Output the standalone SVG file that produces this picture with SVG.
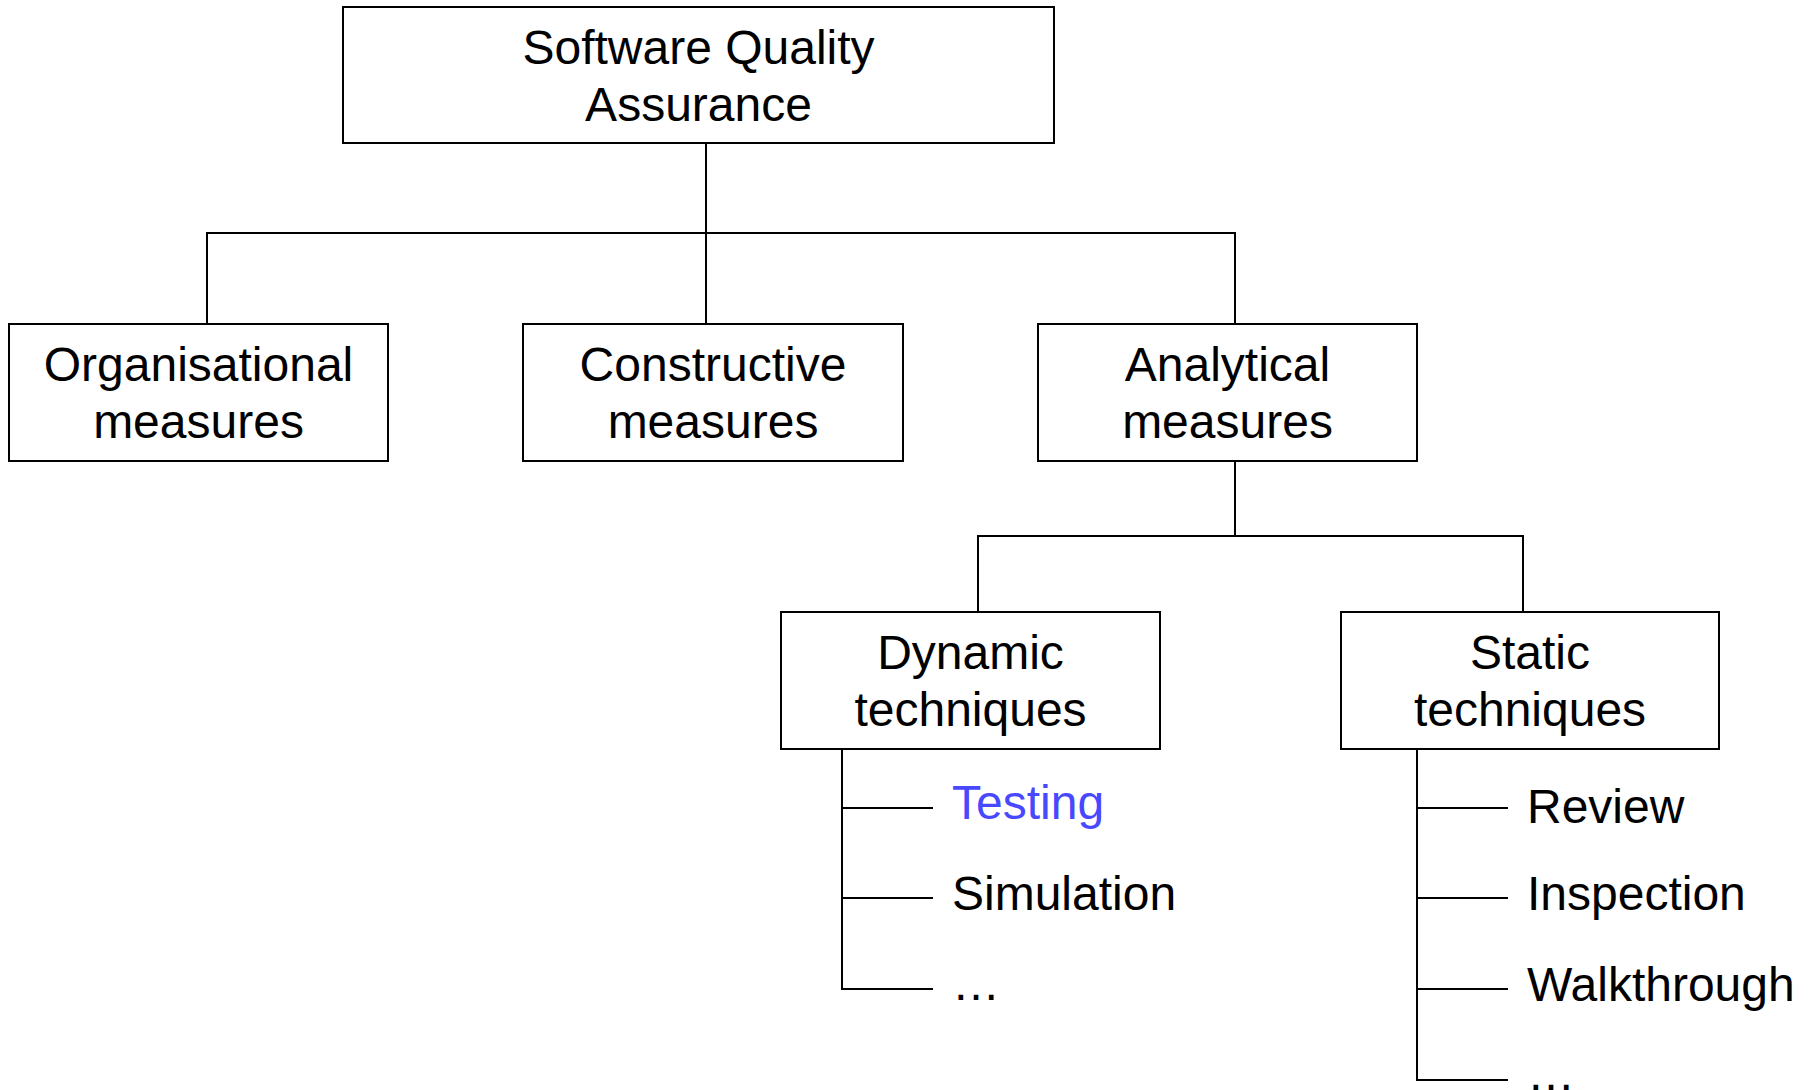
<svg xmlns="http://www.w3.org/2000/svg" width="1812" height="1090" viewBox="0 0 1812 1090">
<style>
.box{fill:#fff;stroke:#000;stroke-width:2}
.ln{fill:none;stroke:#000;stroke-width:2}
text{font-family:"Liberation Sans",Arial,sans-serif;font-size:48px;fill:#000}
.c{text-anchor:middle}
.blue{fill:#4848ff}
</style>
<rect width="1812" height="1090" fill="#fff"/>
<g id="connectors">
<path class="ln" d="M706 143V324M207 324V233H1235V324"/>
<path class="ln" d="M1235 461V536M978 611V536H1523V611"/>
<path class="ln" d="M842 748V989H933M842 808H933M842 898H933"/>
<path class="ln" d="M1417 748V1080H1508M1417 808H1508M1417 898H1508M1417 989H1508"/>
</g>
<g id="sqa"><rect class="box" x="343" y="7" width="711" height="136"/>
<text class="c" x="698.5" y="64">Software Quality</text><text class="c" x="698.5" y="121">Assurance</text></g>
<g id="org"><rect class="box" x="9" y="324" width="379" height="137"/>
<text class="c" x="198.5" y="381">Organisational</text><text class="c" x="198.5" y="438">measures</text></g>
<g id="con"><rect class="box" x="523" y="324" width="380" height="137"/>
<text class="c" x="713" y="381">Constructive</text><text class="c" x="713" y="438">measures</text></g>
<g id="ana"><rect class="box" x="1038" y="324" width="379" height="137"/>
<text class="c" x="1227.5" y="381">Analytical</text><text class="c" x="1227.5" y="438">measures</text></g>
<g id="dyn"><rect class="box" x="781" y="612" width="379" height="137"/>
<text class="c" x="970.5" y="669">Dynamic</text><text class="c" x="970.5" y="726">techniques</text></g>
<g id="sta"><rect class="box" x="1341" y="612" width="378" height="137"/>
<text class="c" x="1530" y="669">Static</text><text class="c" x="1530" y="726">techniques</text></g>
<g id="dyn-items">
<text class="blue" x="952" y="819">Testing</text>
<text x="952" y="910">Simulation</text>
<text x="952" y="1000">…</text>
</g>
<g id="sta-items">
<text x="1527" y="823">Review</text>
<text x="1527" y="910">Inspection</text>
<text x="1527" y="1001">Walkthrough</text>
<text x="1527" y="1090">…</text>
</g>
</svg>
